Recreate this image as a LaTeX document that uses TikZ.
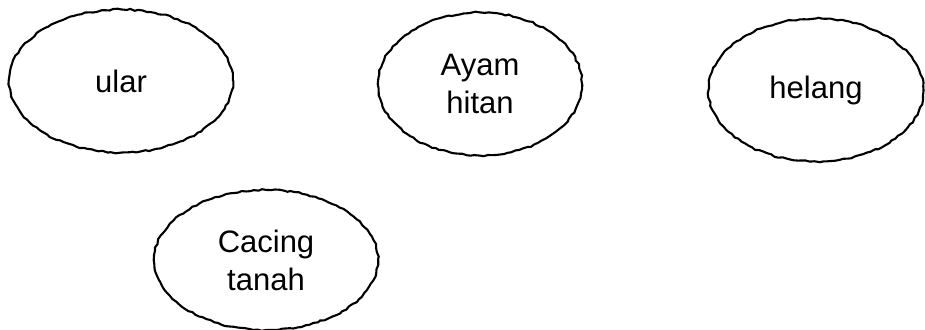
\documentclass[tikz,border=0pt]{standalone}
\usepackage{fontspec}
\setmainfont{Liberation Sans}
\usetikzlibrary{shapes.geometric,decorations.pathmorphing}
\tikzset{
  blob/.style={ellipse, draw=black, line width=2.1pt, inner sep=0pt,
    decorate, decoration={random steps, segment length=4pt, amplitude=0.8pt},
    align=center, font=\fontsize{31}{38}\selectfont},
}
\pgfmathsetseed{7}
\begin{document}
\begin{tikzpicture}[x=1pt,y=-1pt]
\useasboundingbox (0,0) rectangle (925,329);
\node[blob, minimum width=224pt, minimum height=143pt] (ular) at (121,81) {ular};
\node[blob, minimum width=204pt, minimum height=143pt] (ayam) at (480,84) {Ayam\\hitan};
\node[blob, minimum width=215pt, minimum height=143pt] (helang) at (816,90) {helang};
\node[blob, minimum width=224pt, minimum height=140pt] (cacing) at (266,260) {Cacing\\tanah};
\end{tikzpicture}
\end{document}
